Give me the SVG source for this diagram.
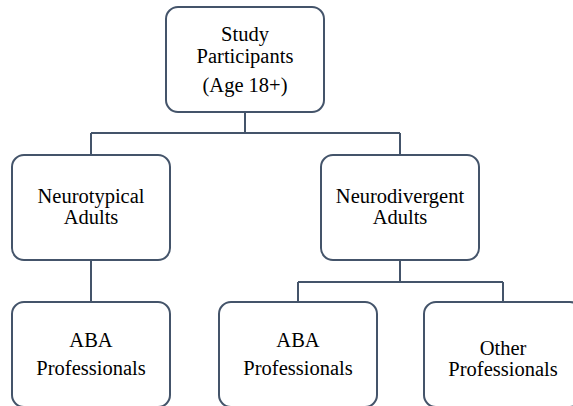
<svg xmlns="http://www.w3.org/2000/svg" width="573" height="406" viewBox="0 0 573 406">
<style>
.box{fill:#ffffff;stroke:#44546a;stroke-width:2}
.con{fill:none;stroke:#44546a;stroke-width:2}
.t{font-family:'Liberation Serif','Times New Roman','DejaVu Serif',serif;font-size:20.5px;fill:#000000;text-anchor:middle}
</style>
<rect width="573" height="406" fill="#ffffff"/>
<g id="connectors">
<path class="con" d="M245 112V133M91 133H400M91 133V155M400 133V155"/>
<path class="con" d="M91 260V302"/>
<path class="con" d="M400 260V282M298 282H503M298 282V302M503 282V302"/>
</g>
<g id="participants" class="t" font-family="Liberation Serif, serif">
<rect class="box" x="166" y="7" width="158" height="105" rx="12"/>
<text x="245" y="41">Study</text>
<text x="245" y="63">Participants</text>
<text x="245" y="92">(Age 18+)</text>
</g>
<g id="neurotypical" class="t" font-family="Liberation Serif, serif">
<rect class="box" x="12" y="155" width="158" height="105" rx="12"/>
<text x="91" y="203">Neurotypical</text>
<text x="91" y="224">Adults</text>
</g>
<g id="neurodivergent" class="t" font-family="Liberation Serif, serif">
<rect class="box" x="321" y="155" width="158" height="105" rx="12"/>
<text x="400" y="203">Neurodivergent</text>
<text x="400" y="224">Adults</text>
</g>
<g id="nt-aba" class="t" font-family="Liberation Serif, serif">
<rect class="box" x="12" y="302" width="158" height="105" rx="12"/>
<text x="91" y="347">ABA</text>
<text x="91" y="375">Professionals</text>
</g>
<g id="nd-aba" class="t" font-family="Liberation Serif, serif">
<rect class="box" x="219" y="302" width="158" height="105" rx="12"/>
<text x="298" y="347">ABA</text>
<text x="298" y="375">Professionals</text>
</g>
<g id="nd-other" class="t" font-family="Liberation Serif, serif">
<rect class="box" x="424" y="302" width="158" height="105" rx="12"/>
<text x="503" y="355">Other</text>
<text x="503" y="376">Professionals</text>
</g>
</svg>
